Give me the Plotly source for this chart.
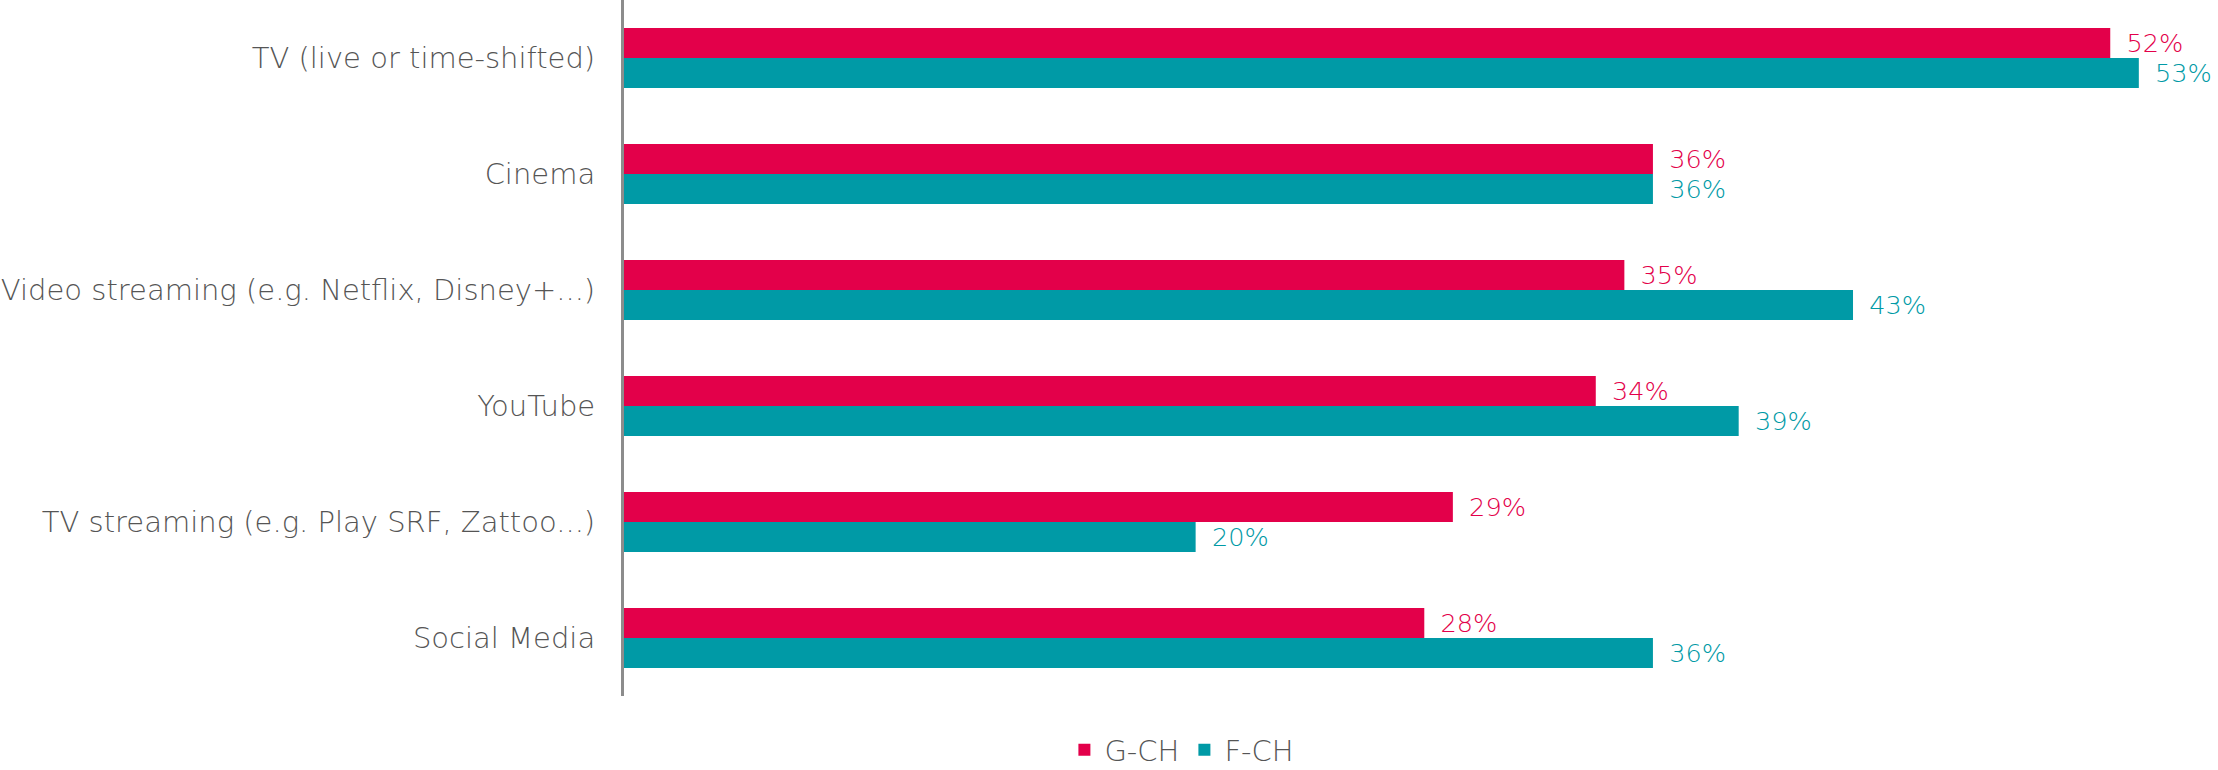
import plotly.graph_objects as go

categories = [
    "TV (live or time-shifted)",
    "Cinema",
    "Video streaming (e.g. Netflix, Disney+...)",
    "YouTube",
    "TV streaming (e.g. Play SRF, Zattoo...)",
    "Social Media",
]
g_ch = [52, 36, 35, 34, 29, 28]
f_ch = [53, 36, 43, 39, 20, 36]

RED = "#E3004A"
TEAL = "#009AA6"
GREY = "#555555"
FONT = "DejaVu Sans"

fig = go.Figure()
for name, vals, color in [("G-CH", g_ch, RED), ("F-CH", f_ch, TEAL)]:
    fig.add_trace(go.Bar(
        y=categories, x=vals, name=name, orientation="h",
        marker=dict(color=color, line=dict(width=0)),
        text=vals, texttemplate="\u00a0\u2009%{text}%",
        textposition="outside", cliponaxis=False,
        textfont=dict(color=color, size=29, family=FONT, weight=200),
    ))

fig.update_yaxes(
    autorange="reversed", showline=True, linecolor="#8c8c8c", linewidth=3,
    ticks="", ticklabelstandoff=20, automargin=False,
    tickfont=dict(size=29, color=GREY, family=FONT, weight=200),
    showgrid=False,
)
fig.update_xaxes(range=[0, 55.77], visible=False, showgrid=False,
                 zeroline=False, automargin=False)

fig.update_layout(
    width=2218, height=770,
    margin=dict(l=624, r=0, t=0, b=74, autoexpand=False),
    barmode="group", bargap=0.483, bargroupgap=0,
    plot_bgcolor="white", paper_bgcolor="white",
    font=dict(family=FONT, color=GREY, size=29, weight=200),
    legend=dict(
        orientation="h", x=0.35, xanchor="center",
        yref="container", y=0.026, yanchor="middle",
        font=dict(size=29, color=GREY, family=FONT, weight=200),
        itemwidth=30, traceorder="normal",
    ),
)

fig.write_html("out.html", config={"displayModeBar": False},
               post_script="document.body.style.margin='0';")
